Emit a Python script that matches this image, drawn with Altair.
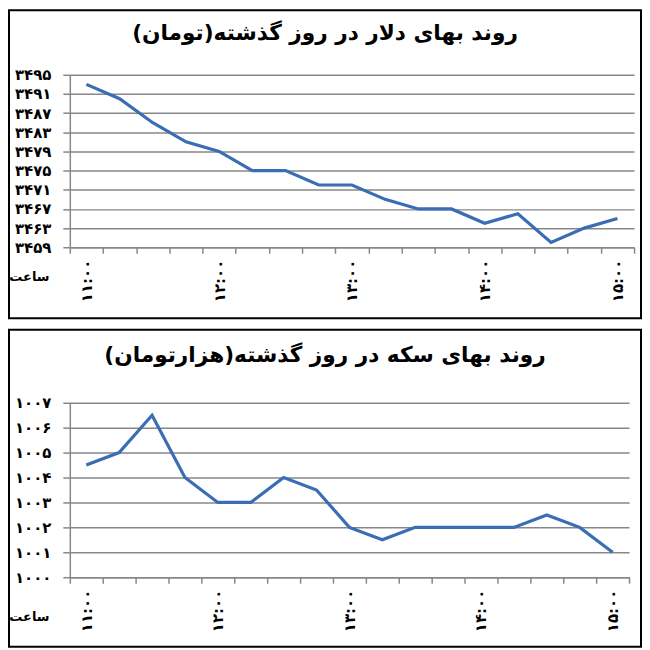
import altair as alt
import pandas as pd

# ---- data ----
times = ["11:00", "11:15", "11:30", "11:45", "12:00", "12:15", "12:30", "12:45",
         "13:00", "13:15", "13:30", "13:45", "14:00", "14:15", "14:30", "14:45", "15:00"]
dollar = [3493, 3490, 3485, 3481, 3479, 3475, 3475, 3472, 3472,
          3469, 3467, 3467, 3464, 3466, 3460, 3463, 3465]
coin = [1004.5, 1005, 1006.5, 1004, 1003, 1003, 1004, 1003.5, 1002,
        1001.5, 1002, 1002, 1002, 1002, 1002.5, 1002, 1001]
hour_labels = ["11:00", "12:00", "13:00", "14:00", "15:00"]
dollar_ticks = [3459, 3463, 3467, 3471, 3475, 3479, 3483, 3487, 3491, 3495]
coin_ticks = [1000, 1001, 1002, 1003, 1004, 1005, 1006, 1007]
title_dollar = "روند بهای دلار در روز گذشته(تومان)"
title_coin = "روند بهای سکه در روز گذشته(هزارتومان)"
x_title = "ساعت"

FA = str.maketrans("0123456789", "۰۱۲۳۴۵۶۷۸۹")


def fa(s):
    return str(s).translate(FA)


def to_h(t):
    return int(t[:2]) + int(t[3:]) / 60.0


hours = [to_h(t) for t in times]
step = hours[1] - hours[0]
bounds = [hours[0] - step / 2 + step * k for k in range(len(hours) + 1)]
label_hours = [to_h(t) for t in hour_labels]
fa_hour_labels = [fa(t) for t in hour_labels]

FONT = "DejaVu Sans"
GRID = "#878787"
LINE = "#3A6DB4"


def js_arr(vals):
    return "[" + ",".join(repr(v) for v in vals) + "]"


def panel(values, ticks, title, w, h, box, title_offset, xt_y):
    df = pd.DataFrame({"hour": hours, "time": times, "v": values})
    yexpr = f"{js_arr([fa(t) for t in ticks])}[indexof({js_arr(ticks)}, datum.value)]"
    lh = js_arr(label_hours)
    xexpr = f"indexof({lh}, datum.value) >= 0 ? {js_arr(fa_hour_labels)}[indexof({lh}, datum.value)] : ''"
    xvals = sorted(set(bounds + label_hours))

    line = alt.Chart(df).mark_line(color=LINE, strokeWidth=3.2).encode(
        x=alt.X("hour:Q",
                scale=alt.Scale(domain=[bounds[0], bounds[-1]], nice=False, zero=False),
                axis=alt.Axis(values=xvals, labelExpr=xexpr, labelAngle=270,
                              labelOverlap=False, labelFlush=False,
                              tickOpacity={"condition": {"test": f"indexof({lh}, datum.value) >= 0", "value": 0}, "value": 1},
                              grid=False, tickSize=6, labelPadding=6,
                              title=x_title, titleX=-41, titleY=xt_y, titleAngle=0,
                              titleAlign="center", titleBaseline="middle",
                              titleFont=FONT, titleFontSize=13, titleFontWeight="bold",
                              titleColor="black")),
        y=alt.Y("v:Q",
                scale=alt.Scale(domain=[ticks[0], ticks[-1]], nice=False, zero=False),
                axis=alt.Axis(values=ticks, labelExpr=yexpr, grid=True, title=None,
                              tickSize=7, labelPadding=12)),
    )
    border = alt.Chart(pd.DataFrame({"k": [0]})).mark_rect(
        fill="transparent", stroke="black", strokeWidth=2
    ).encode(x=alt.value(box[0]), x2=alt.value(box[1]),
             y=alt.value(box[2]), y2=alt.value(box[3]))
    return alt.layer(border, line).properties(
        width=w, height=h,
        title=alt.TitleParams(title, font=FONT, fontSize=21.7, fontWeight="bold",
                              anchor="middle", frame="bounds", offset=title_offset,
                              baseline="bottom", color="black"))


top = panel(dollar, dollar_ticks, title_dollar, 566, 173,
            (-61, 573, -64.7, 244.3), -57, 29)
bottom = panel(coin, coin_ticks, title_coin, 561, 175,
               (-61, 573, -73.3, 244.7), -60, 39)

chart = alt.vconcat(top, bottom, spacing=8).properties(
    padding={"left": 0, "top": 0, "right": 0, "bottom": 0}
).configure(padding=0).configure_view(
    strokeWidth=0
).configure_axis(
    domainColor=GRID, domainWidth=1.5, tickColor=GRID, tickWidth=1.5,
    gridColor=GRID, gridWidth=1.5, gridOpacity=1,
    labelFont=FONT, labelFontSize=15, labelFontWeight="bold", labelColor="black",
)

chart.save("out.html", embed_options={"renderer": "svg", "actions": False})
